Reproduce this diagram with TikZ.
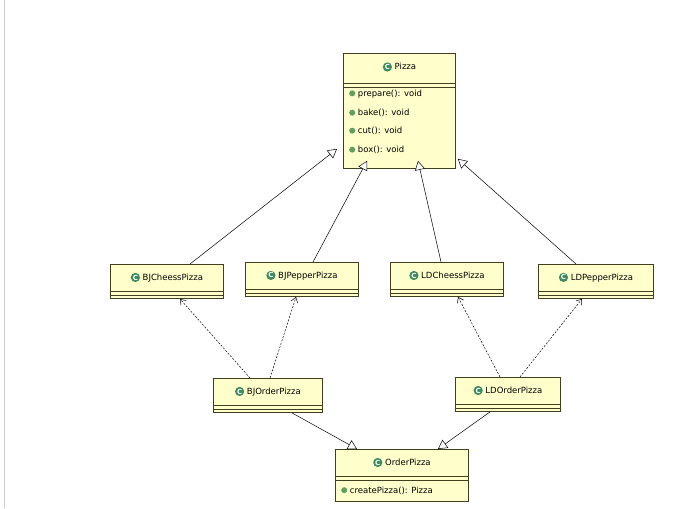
\documentclass[tikz,border=0pt]{standalone}
\usepackage{fontspec}
\setmainfont{DejaVu Sans}
\usetikzlibrary{arrows.meta}
\definecolor{clsfill}{HTML}{FFFFCC}
\definecolor{clsdraw}{HTML}{404020}
\definecolor{icg}{HTML}{3D8B5E}
\definecolor{bul}{HTML}{5FA060}
\tikzset{
  cls/.style={draw=clsdraw, fill=clsfill, line width=0.9pt, anchor=north west, inner sep=0pt},
  sep/.style={draw=clsdraw, line width=0.8pt},
  txt/.style={font=\fontsize{8.5}{10}\selectfont, inner sep=0pt},
  inh/.style={draw=black, line width=0.5pt, -{Triangle[open,length=9pt,width=10pt,fill=white]}},
  dep/.style={draw=black, line width=0.5pt, dash pattern=on 2pt off 1.5pt, -{Straight Barb[length=5pt,width=7pt]}}
}
\newcommand{\cicon}{\tikz[baseline=-3pt]{\fill[icg](0,0) circle(4.6pt);\node[white,font=\bfseries\fontsize{7}{7}\selectfont,inner sep=0] at (0,0){C};}}
\newcommand{\mbul}{\tikz[baseline=-3pt]{\fill[bul](0,0) circle(3pt);}}
% \simplecls{name}{x0}{y0}{x1}{label}
\newcommand{\simplecls}[5]{%
  \node[cls, minimum width=#4pt-#2pt, minimum height=34pt] (#1) at (#2pt,-#3pt) {};
  \node[txt] (#1t) at ([yshift=-13.5pt]#1.north) {\cicon\ #5};
  \draw[sep] ([yshift=-27pt]#1.north west) -- ([yshift=-27pt]#1.north east);
  \draw[sep] ([yshift=-31pt]#1.north west) -- ([yshift=-31pt]#1.north east);
}
\begin{document}
\begin{tikzpicture}[x=1pt,y=1pt]
\useasboundingbox[fill=white] (0,0) rectangle (684,-508);
\draw[gray!40] (4,0) -- (4,-508);
% Pizza
\node[cls, minimum width=112pt, minimum height=115pt] (pz) at (343,-53) {};
\node[txt] (pzt) at ([yshift=-14pt]pz.north) {\cicon\ Pizza};
\draw[sep] ([yshift=-30pt]pz.north west) -- ([yshift=-30pt]pz.north east);
\draw[sep] ([yshift=-34pt]pz.north west) -- ([yshift=-34pt]pz.north east);
\node[txt, anchor=west] (m1) at ([xshift=6pt,yshift=-41pt]pz.north west) {\mbul\ prepare(): void};
\node[txt, anchor=west] (m2) at ([xshift=6pt,yshift=-60pt]pz.north west) {\mbul\ bake(): void};
\node[txt, anchor=west] (m3) at ([xshift=6pt,yshift=-78pt]pz.north west) {\mbul\ cut(): void};
\node[txt, anchor=west] (m4) at ([xshift=6pt,yshift=-97pt]pz.north west) {\mbul\ box(): void};
% subclasses
\simplecls{bjc}{110}{264}{223}{BJCheessPizza}
\simplecls{bjp}{245}{262}{358}{BJPepperPizza}
\simplecls{ldc}{390}{262}{503}{LDCheessPizza}
\simplecls{ldp}{538}{264}{653}{LDPepperPizza}
\simplecls{bjo}{213}{378}{322}{BJOrderPizza}
\simplecls{ldo}{455}{377}{560}{LDOrderPizza}
% OrderPizza
\node[cls, minimum width=133pt, minimum height=52pt] (op) at (335,-449) {};
\node[txt] (opt) at ([yshift=-13.5pt]op.north) {\cicon\ OrderPizza};
\draw[sep] ([yshift=-27pt]op.north west) -- ([yshift=-27pt]op.north east);
\draw[sep] ([yshift=-31pt]op.north west) -- ([yshift=-31pt]op.north east);
\node[txt, anchor=west] (om) at ([xshift=6pt,yshift=-41.5pt]op.north west) {\mbul\ createPizza(): Pizza};
% inheritance to Pizza
\draw[inh] ([xshift=80pt]bjc.north west) -- ([xshift=-6pt,yshift=20pt]pz.south west);
\draw[inh] ([xshift=68pt]bjp.north west) -- ([xshift=24pt,yshift=8pt]pz.south west);
\draw[inh] ([xshift=51pt]ldc.north west) -- ([xshift=75pt,yshift=8pt]pz.south west);
\draw[inh] ([xshift=38pt]ldp.north west) -- ([xshift=2pt,yshift=10pt]pz.south east);
% dependencies
\draw[dep] ([xshift=37pt]bjo.north west) -- ([xshift=70pt]bjc.south west);
\draw[dep] ([xshift=57pt]bjo.north west) -- ([xshift=51pt]bjp.south west);
\draw[dep] ([xshift=45pt]ldo.north west) -- ([xshift=68pt]ldc.south west);
\draw[dep] ([xshift=65pt]ldo.north west) -- ([xshift=44pt]ldp.south west);
% inheritance to OrderPizza
\draw[inh] ([xshift=79pt]bjo.south west) -- ([xshift=22pt]op.north west);
\draw[inh] ([xshift=35pt]ldo.south west) -- ([xshift=103pt]op.north west);
\end{tikzpicture}
\end{document}
